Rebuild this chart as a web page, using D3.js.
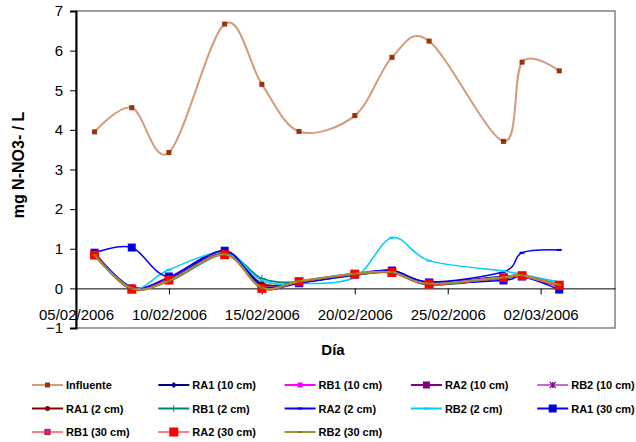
<!DOCTYPE html>
<html>
<head>
<meta charset="utf-8">
<script src="https://cdn.jsdelivr.net/npm/d3@7"></script>
<style>
body { margin: 0; background: #fff; }
svg { display: block; font-family: Arial, "Liberation Sans", sans-serif; }
</style>
</head>
<body>
<div id="chart"></div>
<script>
// sampling dates (dd/mm/yyyy)
var dates = ["06/02/2006", "08/02/2006", "10/02/2006", "13/02/2006", "15/02/2006", "17/02/2006",
             "20/02/2006", "22/02/2006", "24/02/2006", "28/02/2006", "01/03/2006", "03/03/2006"];

var seriesNames = ["Influente", "RA1 (10 cm)", "RB1 (10 cm)", "RA2 (10 cm)", "RB2 (10 cm)",
                   "RA1 (2 cm)", "RB1 (2 cm)", "RA2 (2 cm)", "RB2 (2 cm)", "RA1 (30 cm)",
                   "RB1 (30 cm)", "RA2 (30 cm)", "RB2 (30 cm)"];

// mg N-NO3- / L, one row per series, same order as seriesNames
var seriesValues = [
  [3.95, 4.56, 3.43, 6.67, 5.15, 3.96, 4.36, 5.83, 6.24, 3.71, 5.71, 5.49],
  [0.88, 0.02, 0.25, 0.93, 0.05, 0.15, 0.35, 0.45, 0.15, 0.30, 0.32, 0.08],
  [0.85, 0.00, 0.22, 0.90, 0.03, 0.17, 0.37, 0.43, 0.12, 0.28, 0.33, 0.06],
  [0.90, 0.01, 0.28, 0.92, 0.04, 0.16, 0.36, 0.44, 0.14, 0.27, 0.31, 0.07],
  [0.86, 0.02, 0.26, 0.90, 0.06, 0.18, 0.38, 0.42, 0.13, 0.29, 0.34, 0.10],
  [0.84, 0.01, 0.20, 0.88, 0.12, 0.15, 0.34, 0.40, 0.10, 0.26, 0.30, 0.05],
  [0.86, 0.02, 0.18, 0.86, 0.25, 0.16, 0.33, 0.41, 0.09, 0.25, 0.32, 0.09],
  [0.87, 0.03, 0.27, 0.95, 0.07, 0.14, 0.35, 0.44, 0.16, 0.42, 0.90, 0.97],
  [0.85, -0.02, 0.47, 0.90, 0.20, 0.12, 0.28, 1.28, 0.70, 0.44, 0.35, 0.16],
  [0.90, 1.03, 0.30, 0.95, 0.02, 0.13, 0.35, 0.45, 0.15, 0.20, 0.30, -0.03],
  [0.83, 0.00, 0.20, 0.85, 0.00, 0.17, 0.36, 0.40, 0.11, 0.27, 0.31, 0.06],
  [0.84, -0.02, 0.21, 0.85, 0.00, 0.17, 0.36, 0.40, 0.11, 0.27, 0.32, 0.08],
  [0.84, 0.00, 0.19, 0.86, 0.02, 0.18, 0.37, 0.41, 0.12, 0.28, 0.33, 0.09]
];

var xDomain = ["05/02/2006", "06/03/2006"];
var yTicks = [-1, 0, 1, 2, 3, 4, 5, 6, 7];

// line + marker look for each series
var styles = [
  {line: "#D49A7C", w: 2,   mark: "square",  size: 5, fill: "#993300", stroke: "#993300"},
  {line: "#000080", w: 1.8, mark: "diamond", size: 6, fill: "#000080", stroke: "#000080"},
  {line: "#FF00FF", w: 1.8, mark: "square",  size: 5, fill: "#FF00FF", stroke: "#FF00FF"},
  {line: "#800080", w: 1.8, mark: "square",  size: 7, fill: "#800080", stroke: "#800080"},
  {line: "#C070C0", w: 1.8, mark: "star",    size: 6, fill: "none",    stroke: "#800080"},
  {line: "#800000", w: 1.8, mark: "circle",  size: 5, fill: "#800000", stroke: "#800000"},
  {line: "#008080", w: 1.8, mark: "plus",    size: 7, fill: "none",    stroke: "#008080"},
  {line: "#0000FF", w: 1.5, mark: "dash",    size: 5, fill: "none",    stroke: "#0000FF"},
  {line: "#00CCFF", w: 1.5, mark: "dash",    size: 5, fill: "none",    stroke: "#00CCFF"},
  {line: "#0000FF", w: 1.5, mark: "squareX", size: 8, fill: "#0000FF", stroke: "#0000FF"},
  {line: "#FF7C80", w: 1.8, mark: "square",  size: 5, fill: "#FF00FF", stroke: "#993300"},
  {line: "#FF3030", w: 1.8, mark: "square",  size: 9, fill: "#FF0000", stroke: "#FF0000"},
  {line: "#999933", w: 1.8, mark: "dash",    size: 4, fill: "none",    stroke: "#808000"}
];

var W = 636, H = 442;
var margin = {top: 11, right: 21, bottom: 114, left: 76};
var parse = d3.utcParse("%d/%m/%Y");
var fmt = d3.utcFormat("%d/%m/%Y");

var svg = d3.select("#chart").append("svg")
    .attr("width", W).attr("height", H);

var x = d3.scaleUtc()
    .domain(xDomain.map(parse))
    .range([margin.left, W - margin.right]);
var y = d3.scaleLinear()
    .domain([d3.min(yTicks), d3.max(yTicks)])
    .range([H - margin.bottom, margin.top]);

// plot area border
svg.append("rect")
    .attr("x", x.range()[0]).attr("y", y.range()[1])
    .attr("width", x.range()[1] - x.range()[0])
    .attr("height", y.range()[0] - y.range()[1])
    .attr("fill", "none").attr("stroke", "#808080").attr("stroke-width", 1.5);

// y axis
var yAxis = svg.append("g")
    .attr("transform", "translate(" + margin.left + ",0)")
    .call(d3.axisLeft(y).tickValues(yTicks).tickSize(6).tickPadding(7).tickFormat(d3.format("d")));
yAxis.select(".domain").attr("stroke", "#000").attr("stroke-width", 2);
yAxis.selectAll("text").attr("font-size", 15).attr("fill", "#000").attr("font-family", "Arial, 'Liberation Sans', sans-serif");

// x axis crossing at zero
var xTicks = d3.utcDay.range(parse(xDomain[0]), parse(xDomain[1]), 5);
var xAxis = svg.append("g")
    .attr("transform", "translate(0," + y(0) + ")")
    .call(d3.axisBottom(x).tickValues(xTicks).tickSize(6).tickSizeOuter(0).tickFormat(fmt));
xAxis.select(".domain").attr("stroke", "#000").attr("stroke-width", 1);
xAxis.selectAll("text").attr("font-size", 15).attr("fill", "#000")
    .attr("font-family", "Arial, 'Liberation Sans', sans-serif")
    .attr("y", 21).attr("dy", "0.71em");

// axis titles
svg.append("text")
    .attr("transform", "translate(24," + 165 + ") rotate(-90)")
    .attr("text-anchor", "middle")
    .attr("font-size", 16).attr("font-weight", "bold")
    .text("mg N-NO3- / L");
svg.append("text")
    .attr("x", 333).attr("y", 355)
    .attr("text-anchor", "middle")
    .attr("font-size", 15).attr("font-weight", "bold")
    .text("Día");

function drawMarker(g, st, cx, cy) {
  var s = st.size, h = s / 2;
  if (st.mark === "square" || st.mark === "squareX") {
    g.append("rect").attr("x", cx - h).attr("y", cy - h).attr("width", s).attr("height", s)
      .attr("fill", st.fill).attr("stroke", st.stroke).attr("stroke-width", st.stroke === st.fill ? 0 : 1.2);
    if (st.mark === "squareX") {
      g.append("path").attr("d", "M" + (cx - h + 1.5) + "," + (cy - h + 1.5) + "L" + (cx + h - 1.5) + "," + (cy + h - 1.5)
          + "M" + (cx - h + 1.5) + "," + (cy + h - 1.5) + "L" + (cx + h - 1.5) + "," + (cy - h + 1.5))
        .attr("stroke", "#000080").attr("stroke-width", 1);
    }
  } else if (st.mark === "diamond") {
    g.append("path").attr("d", "M" + cx + "," + (cy - h) + "L" + (cx + h) + "," + cy + "L" + cx + "," + (cy + h) + "L" + (cx - h) + "," + cy + "Z")
      .attr("fill", st.fill);
  } else if (st.mark === "circle") {
    g.append("circle").attr("cx", cx).attr("cy", cy).attr("r", h).attr("fill", st.fill);
  } else if (st.mark === "plus") {
    g.append("path").attr("d", "M" + (cx - h) + "," + cy + "H" + (cx + h) + "M" + cx + "," + (cy - h) + "V" + (cy + h))
      .attr("stroke", st.stroke).attr("stroke-width", 1);
  } else if (st.mark === "star") {
    g.append("path").attr("d", "M" + (cx - h) + "," + (cy - h) + "L" + (cx + h) + "," + (cy + h)
        + "M" + (cx - h) + "," + (cy + h) + "L" + (cx + h) + "," + (cy - h)
        + "M" + cx + "," + (cy - h) + "V" + (cy + h))
      .attr("stroke", st.stroke).attr("stroke-width", 1.2);
  } else if (st.mark === "dash") {
    g.append("path").attr("d", "M" + (cx - h) + "," + cy + "H" + (cx + h))
      .attr("stroke", st.stroke).attr("stroke-width", 2);
  }
}

var line = d3.line()
    .x(function(d, i) { return x(parse(dates[i])); })
    .y(function(d) { return y(d); })
    .curve(d3.curveCardinal.tension(0));

var plot = svg.append("g");
seriesValues.forEach(function(vals, k) {
  var st = styles[k];
  var g = plot.append("g");
  g.append("path")
    .attr("d", line(vals))
    .attr("fill", "none")
    .attr("stroke", st.line)
    .attr("stroke-width", st.w);
  vals.forEach(function(v, i) {
    drawMarker(g, st, x(parse(dates[i])), y(v));
  });
});

// legend: 5 columns, 3 rows
var legX0 = 32, legStep = 126.3, legY0 = 385, legRow = 23.5, legLine = 31;
var leg = svg.append("g");
seriesNames.forEach(function(name, k) {
  var st = styles[k];
  var lx = legX0 + (k % 5) * legStep;
  var ly = legY0 + Math.floor(k / 5) * legRow;
  var g = leg.append("g");
  g.append("line").attr("x1", lx).attr("x2", lx + legLine).attr("y1", ly).attr("y2", ly)
    .attr("stroke", k === 11 ? "#FF7C80" : st.line).attr("stroke-width", 2);
  drawMarker(g, st, lx + legLine / 2, ly);
  g.append("text").attr("x", lx + legLine + 3).attr("y", ly + 4)
    .attr("font-size", 11).attr("font-weight", "bold").text(name);
});
</script>
</body>
</html>
